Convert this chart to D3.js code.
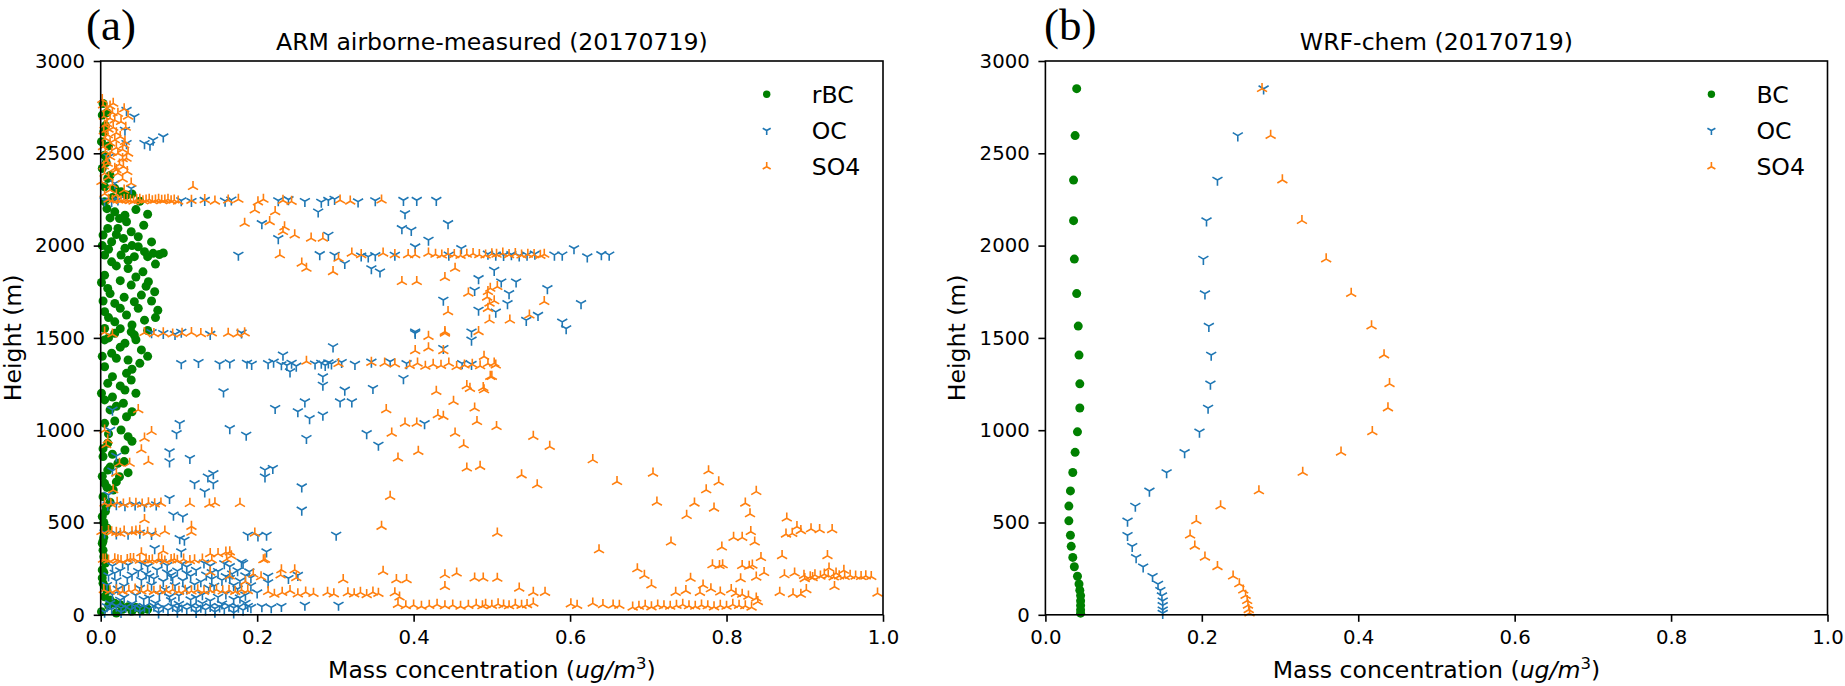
<!DOCTYPE html>
<html>
<meta charset="utf-8">
<style type="text/css">
  body { margin: 0; background: #fff; }
  text { font-family: "DejaVu Sans", sans-serif; fill: #000; }
  .tick text { font-size: 19.7px; }
  .tick line { stroke: #000; stroke-width: 1.6; }
  .panel-tag { font-family: "Liberation Serif", "Times New Roman", serif; font-size: 45px; }
</style>
<body>
<script src="https://d3js.org/d3.v7.min.js"></script>
<div id="chart"></div>
<script>
  // ---------- data: [mass concentration (ug/m3), height (m)] ----------

  // (a) ARM airborne-measured
  const rbcA = [
    [0.003,2770],[0.002,2707],[0.004,2617],[0.001,2563],[0.005,2490],[0.002,2418],[0.009,2364],[0.005,2319],
    [0.018,2310],[0.026,2292],[0.033,2274],[0.005,2238],[0.018,2183],[0.031,2165],[0.024,2147],[0.033,2129],
    [0.009,2093],[0.022,2093],[0.039,2075],[0.003,2057],[0.048,2048],[0.029,2039],[0.014,2021],[0.048,1994],
    [0.031,1985],[0.056,1967],[0.067,1958],[0.075,1952],[0.026,1949],[0.043,1940],[0.005,1949],[0.014,1912],
    [0.035,1876],[0.054,1858],[0.005,1840],[0.061,1804],[0.039,1786],[0.009,1768],[0.069,1750],[0.052,1732],
    [0.043,1696],[0.018,1687],[0.073,1650],[0.005,1642],[0.033,1624],[0.056,1596],[0.018,1587],[0.005,1551],
    [0.039,1533],[0.018,1525],[0.043,1516],[0.005,1489],[0.031,1471],[0.052,1435],[0.014,1417],[0.035,1380],
    [0.050,1362],[0.005,1344],[0.033,1308],[0.039,1272],[0.009,1254],[0.031,1218],[0.005,1164],[0.029,1146],
    [0.012,1110],[0.033,1073],[0.005,1037],[0.026,1001],[0.035,965],[0.009,929],[0.031,893],[0.003,857],
    [0.022,821],[0.009,784],[0.024,748],[0.005,712],[0.016,676],[0.003,640],[0.007,586],[0.002,532],
    [0.005,459],[0.002,387],[0.004,315],[0.002,243],[0.003,171],[0.005,98],[0.018,62],[0.035,44],
    [0.052,26],[0.001,17],[0.002,2000],[0.001,1800],[0.003,1700],[0.002,1400],[0.001,1200],[0.003,900],
    [0.002,750],[0.006,560],[0.004,420],[0.003,350],[0.002,200],[0.008,130],[0.010,50],[0.028,30],
    [0.008,2720],[0.006,2650],[0.010,2540],[0.007,2450],[0.012,2380],[0.015,2260],[0.040,2280],[0.050,2240],
    [0.008,2200],[0.045,2195],[0.060,2170],[0.012,2150],[0.055,2110],[0.020,2060],[0.065,2020],[0.040,2000],
    [0.080,1960],[0.010,1980],[0.060,1940],[0.035,1920],[0.020,1890],[0.070,1900],[0.045,1830],[0.025,1810],
    [0.058,1780],[0.012,1740],[0.030,1720],[0.065,1700],[0.025,1660],[0.048,1660],[0.010,1610],[0.070,1610],
    [0.040,1570],[0.025,1550],[0.060,1540],[0.010,1500],[0.045,1490],[0.025,1450],[0.060,1400],[0.020,1390],
    [0.040,1330],[0.015,1290],[0.025,1240],[0.045,1200],[0.015,1180],[0.020,1130],[0.040,1100],[0.018,1050],
    [0.010,980],[0.040,940],[0.015,870],[0.030,830],[0.012,800],[0.035,770],[0.020,720],[0.008,690],
    [0.012,610],[0.004,500],[0.008,470],[0.003,400],[0.006,280],[0.004,230],[0.006,150],[0.012,80],
    [0.025,55],[0.045,40],[0.060,30],[0.040,20],[0.020,10]
  ];

  const ocA = [
    [0.033,2734],[0.043,2698],[0.031,2626],[0.056,2554],[0.063,2545],[0.067,2572],[0.080,2590],[0.033,2554],
    [0.018,2337],[0.039,2310],[0.005,2245],[0.014,2240],[0.022,2248],[0.010,2480],
    [0.103,2244],[0.116,2240],[0.133,2246],[0.159,2242],[0.167,2248],[0.227,2244],[0.240,2250],[0.261,2240],
    [0.282,2236],[0.291,2246],[0.299,2252],[0.329,2238],[0.351,2244],[0.387,2246],[0.404,2246],[0.429,2246],
    [0.278,2183],[0.389,2174],[0.206,2120],[0.385,2093],[0.397,2084],[0.291,2057],[0.444,2120],[0.227,2039],
    [0.419,2030],[0.402,1994],[0.176,1949],[0.280,1952],[0.299,1949],[0.333,1945],[0.342,1940],[0.351,1947],
    [0.312,1904],[0.346,1876],[0.357,1858],[0.376,1949],[0.461,1985],[0.445,1950],
    [0.495,1955],[0.505,1950],[0.515,1948],[0.525,1952],[0.535,1945],[0.545,1950],[0.555,1955],[0.580,1950],
    [0.590,1950],[0.605,1984],[0.622,1940],[0.640,1952],[0.650,1950],
    [0.483,1822],[0.478,1759],[0.438,1705],[0.483,1651],[0.503,1867],[0.512,1804],[0.531,1804],[0.522,1741],
    [0.571,1768],[0.520,1687],[0.614,1687],[0.505,1641],[0.559,1623],[0.544,1596],[0.590,1587],[0.595,1551],
    [0.402,1533],[0.474,1533],[0.474,1489],[0.402,1525],
    [0.065,1530],[0.080,1525],[0.095,1520],[0.103,1532],[0.180,1528],[0.140,1520],
    [0.103,1362],[0.125,1368],[0.152,1360],[0.165,1366],[0.187,1364],[0.193,1358],[0.214,1362],[0.221,1370],
    [0.231,1356],[0.238,1352],[0.244,1364],[0.250,1348],[0.274,1360],[0.282,1364],[0.287,1352],[0.291,1366],
    [0.295,1360],[0.308,1368],[0.325,1358],[0.346,1370],[0.370,1372],[0.391,1362],[0.462,1362],[0.474,1358],
    [0.233,1408],[0.297,1453],[0.438,1444],[0.242,1317],[0.284,1290],[0.387,1281],[0.284,1245],[0.157,1209],
    [0.312,1218],[0.348,1227],[0.306,1155],[0.321,1155],[0.261,1155],[0.223,1119],[0.252,1101],[0.267,1064],
    [0.284,1083],[0.101,1037],[0.414,1037],[0.097,983],[0.165,1010],[0.186,974],[0.263,956],[0.340,983],
    [0.355,920],[0.088,884],[0.088,830],[0.114,848],[0.137,748],[0.144,766],[0.120,712],[0.144,712],
    [0.133,667],[0.210,785],[0.220,794],[0.210,748],[0.257,694],[0.257,568],[0.088,631],
    [0.015,1110],[0.012,1000],[0.020,860],[0.015,780],[0.010,650],
    [0.009,595],[0.020,598],[0.031,592],[0.044,596],[0.056,590],[0.071,597],
    [0.093,541],[0.105,532],[0.188,432],[0.201,428],[0.212,432],[0.101,414],[0.107,405],[0.301,432],
    [0.069,360],[0.103,342],[0.212,342],[0.182,279],
    [0.005,445],[0.020,440],[0.035,438],[0.050,444],[0.065,436],
    [0.015,265],[0.035,270],[0.060,262],[0.085,268],[0.110,260],[0.140,266],[0.165,262],
    [0.025,240],[0.048,236],[0.072,244],[0.098,238],[0.122,242],[0.150,236],[0.175,240],[0.190,234],
    [0.010,212],[0.040,216],[0.062,208],[0.090,214],[0.115,210],[0.135,216],[0.160,208],[0.185,212],
    [0.020,185],[0.052,188],[0.080,182],[0.105,186],[0.128,180],[0.155,188],[0.178,184],
    [0.008,160],[0.030,156],[0.065,162],[0.095,158],[0.120,164],[0.145,156],[0.170,160],[0.192,158],
    [0.015,110],[0.045,106],[0.075,112],[0.100,104],[0.130,110],[0.160,114],[0.185,108],
    [0.025,80],[0.055,84],[0.090,78],[0.115,82],[0.140,76],[0.170,84],
    [0.008,45],[0.020,48],[0.032,42],[0.044,46],[0.056,44],[0.068,48],[0.080,42],[0.092,46],
    [0.104,44],[0.116,48],[0.128,42],[0.140,46],[0.152,44],[0.164,48],[0.176,42],[0.188,46],
    [0.014,30],[0.038,28],[0.062,32],[0.086,26],[0.110,30],[0.134,28],[0.158,32],[0.182,26],
    [0.005,15],[0.026,14],[0.050,16],[0.074,12],[0.098,15],[0.122,14],[0.146,16],[0.170,12],
    [0.206,45],[0.218,40],[0.231,46],[0.261,53],[0.304,53],[0.214,210],[0.240,198],[0.252,215],
    [0.214,175],[0.200,120],
    [0.028,282],[0.052,278],[0.078,284],[0.104,276],[0.132,282],[0.158,278],[0.180,286],
    [0.018,226],[0.058,222],[0.085,228],[0.110,224],[0.142,230],[0.168,222],
    [0.034,198],[0.068,196],[0.092,200],[0.142,194],[0.165,198],[0.192,202],
    [0.022,140],[0.050,144],[0.082,138],[0.110,142],[0.138,146],[0.175,140],
    [0.030,95],[0.062,92],[0.088,98],[0.122,94],[0.150,96],[0.178,92],
    [0.012,62],[0.040,60],[0.070,64],[0.100,58],[0.130,62],[0.155,60],[0.185,64],
    [0.026,36],[0.050,38],[0.074,34],[0.098,38],[0.122,36],[0.146,34],[0.170,38],[0.192,40]
  ];

  const so4A = [
    [0.003,2761],[0.016,2770],[0.022,2716],[0.012,2689],[0.005,2653],[0.026,2671],[0.009,2599],[0.018,2572],
    [0.031,2563],[0.003,2535],[0.022,2499],[0.033,2472],[0.009,2445],[0.018,2418],[0.029,2427],[0.005,2391],
    [0.022,2391],[0.001,2346],[0.039,2337],[0.012,2301],[0.008,2740],[0.015,2720],[0.004,2700],[0.010,2630],
    [0.020,2610],[0.006,2580],[0.028,2520],[0.014,2505],[0.007,2460],[0.024,2440],
    [0.002,2790],[0.012,2755],[0.030,2740],[0.035,2700],[0.018,2680],[0.008,2660],[0.032,2640],[0.016,2640],
    [0.004,2620],[0.025,2590],[0.012,2555],[0.030,2545],[0.020,2530],[0.006,2510],[0.035,2500],[0.012,2480],
    [0.028,2470],[0.004,2430],[0.020,2410],[0.034,2400],[0.010,2370],[0.028,2360],[0.015,2330],[0.030,2300],
    [0.005,2280],[0.020,2275],
    [0.022,2246],[0.030,2250],[0.038,2244],[0.046,2248],[0.054,2242],[0.062,2250],[0.070,2246],[0.078,2244],
    [0.086,2250],[0.094,2246],[0.099,2240],[0.116,2244],[0.133,2248],[0.146,2240],[0.163,2246],[0.176,2250],
    [0.201,2236],[0.208,2250],[0.233,2244],[0.244,2238],[0.306,2246],[0.319,2240],[0.359,2246],
    [0.026,2244],[0.034,2248],[0.042,2240],[0.050,2250],[0.058,2246],[0.066,2242],[0.074,2250],[0.082,2246],
    [0.090,2242],[0.010,2250],[0.015,2244],
    [0.118,2319],[0.197,2192],[0.223,2183],[0.184,2120],[0.216,2129],[0.235,2100],[0.233,2075],[0.248,2057],
    [0.269,2039],[0.284,2039],[0.229,1949],[0.257,1904],[0.263,1876],[0.297,1858],
    [0.304,1930],[0.321,1958],[0.333,1950],[0.361,1958],[0.376,1950],[0.393,1950],[0.402,1950],[0.419,1958],
    [0.428,1952],[0.436,1948],[0.444,1955],[0.452,1950],[0.460,1946],[0.468,1952],[0.476,1956],[0.484,1950],
    [0.492,1948],[0.500,1954],[0.506,1952],[0.514,1958],[0.522,1950],[0.530,1955],[0.538,1948],[0.546,1952],
    [0.554,1950],[0.562,1946],[0.567,1952],
    [0.385,1804],[0.404,1804],[0.440,1826],[0.453,1876],[0.470,1741],[0.444,1641],[0.498,1768],[0.494,1720],
    [0.503,1700],[0.440,1533],[0.483,1533],[0.507,1777],[0.495,1750],[0.497,1687],[0.567,1696],[0.495,1659],
    [0.548,1623],[0.523,1596],[0.497,1596],
    [0.056,1528],[0.068,1522],[0.080,1526],[0.092,1520],[0.104,1524],[0.116,1528],[0.128,1522],[0.142,1526],
    [0.163,1524],[0.175,1520],[0.184,1526],[0.005,1530],[0.015,1520],[0.419,1507],[0.440,1525],
    [0.263,1372],[0.304,1360],[0.346,1366],[0.363,1362],[0.376,1358],[0.395,1350],[0.405,1362],[0.415,1345],
    [0.425,1356],[0.435,1350],[0.445,1362],[0.455,1344],[0.465,1352],[0.475,1356],[0.485,1348],[0.495,1360],
    [0.505,1352],
    [0.402,1430],[0.419,1445],[0.438,1430],[0.468,1240],[0.472,1225],[0.489,1230],[0.498,1290],[0.429,1209],
    [0.451,1155],[0.365,1110],[0.431,1083],[0.438,1074],[0.478,1119],[0.481,1046],[0.389,1037],[0.404,1037],
    [0.372,983],[0.453,983],[0.464,920],[0.406,884],[0.380,848],[0.468,794],[0.485,803],[0.370,640],[0.359,478],
    [0.490,1399],[0.503,1362],[0.500,1290],[0.490,1218],[0.506,1019],[0.553,965],[0.574,911],[0.629,839],
    [0.538,757],[0.558,703],[0.660,721],[0.706,766],[0.711,609],[0.777,779],[0.790,719],[0.774,676],
    [0.759,604],[0.749,537],[0.784,577],[0.838,667],[0.824,604],[0.830,546],[0.507,441],[0.637,351],
    [0.729,393],[0.809,418],[0.820,418],[0.831,450],[0.836,393],[0.794,366],[0.877,523],[0.890,477],
    [0.876,436],[0.884,440],[0.895,455],[0.908,465],[0.919,460],[0.935,460],[0.844,309],[0.871,319],
    [0.929,319],[0.782,270],[0.791,266],[0.795,270],[0.820,266],[0.829,262],[0.833,268],[0.848,228],
    [0.838,203],[0.686,248],[0.695,212],[0.704,161],[0.754,197],[0.818,194],[0.874,216],[0.887,225],
    [0.899,212],[0.907,205],[0.913,215],[0.920,208],[0.930,212],[0.937,204],[0.944,210],[0.951,206],
    [0.958,212],[0.965,208],[0.972,206],[0.978,210],[0.985,206],[0.900,195],[0.910,200],[0.925,220],
    [0.940,225],[0.950,240],[0.938,152],[0.931,252],[0.993,116],[0.868,120],[0.885,112],[0.895,110],
    [0.902,135],[0.507,197],[0.535,143],[0.553,120],[0.568,120],[0.553,62],
    [0.492,55],[0.500,50],[0.508,58],[0.515,52],[0.522,48],[0.530,56],[0.538,50],[0.545,54],
    [0.601,58],[0.609,50],[0.629,62],[0.642,54],[0.655,52],[0.663,50],
    [0.680,40],[0.688,45],[0.696,50],[0.704,42],[0.712,52],[0.720,48],[0.728,45],[0.736,50],
    [0.744,55],[0.752,48],[0.760,45],[0.768,52],[0.776,48],[0.784,42],[0.792,50],[0.800,45],
    [0.808,55],[0.816,50],[0.824,48],[0.832,40],[0.840,70],[0.838,90],
    [0.735,120],[0.748,130],[0.766,120],[0.792,122],[0.806,135],[0.812,115],[0.820,110],[0.828,100],
    [0.770,160],[0.780,140],
    [0.380,55],[0.390,48],[0.400,52],[0.410,45],[0.420,50],[0.430,55],[0.440,48],[0.450,52],
    [0.460,45],[0.470,50],[0.480,55],[0.488,48],
    [0.048,1110],[0.065,992],[0.056,956],[0.005,1000],[0.009,946],[0.007,920],[0.052,893],[0.024,820],
    [0.037,820],[0.061,830],[0.020,766],[0.016,676],
    [0.005,604],[0.013,600],[0.021,608],[0.029,598],[0.037,606],[0.045,602],[0.053,598],[0.061,606],
    [0.069,600],[0.077,604],[0.114,602],[0.139,598],[0.146,606],[0.178,602],[0.056,514],
    [0.001,450],[0.010,455],[0.020,445],[0.030,452],[0.040,448],[0.050,456],[0.060,446],[0.082,452],
    [0.116,446],[0.116,478],[0.197,441],
    [0.014,448],[0.025,440],[0.045,452],[0.070,440],
    [0.003,300],[0.010,295],[0.018,302],[0.026,292],[0.034,298],[0.042,304],[0.050,294],[0.058,300],
    [0.066,296],[0.074,302],[0.082,290],[0.090,298],[0.098,294],[0.106,300],[0.114,292],[0.142,297],
    [0.161,300],[0.167,318],[0.208,297],[0.150,330],[0.165,340],
    [0.006,300],[0.022,296],[0.038,304],[0.062,292],[0.078,300],[0.094,302],[0.120,296],[0.130,300],[0.210,300],
    [0.052,335],[0.080,345],[0.140,330],[0.160,338],
    [0.140,230],[0.165,210],[0.195,220],[0.205,205],[0.230,215],[0.250,200],[0.185,180],
    [0.231,243],[0.248,243],[0.310,189],[0.361,234],[0.378,189],[0.391,189],[0.440,216],[0.455,225],
    [0.478,198],[0.489,198],[0.440,152],
    [0.004,135],[0.012,128],[0.020,134],[0.028,126],[0.036,132],[0.044,138],[0.052,128],[0.060,134],
    [0.068,126],[0.076,132],[0.084,130],[0.092,136],[0.100,126],[0.108,132],[0.116,128],[0.124,134],
    [0.132,126],[0.140,132],[0.148,136],[0.156,128],[0.164,132],[0.172,126],[0.180,134],[0.188,130],
    [0.214,125],[0.222,110],[0.232,120],[0.242,130],[0.252,112],[0.262,122],[0.272,115],[0.290,120],
    [0.298,112],[0.316,118],[0.324,112],[0.332,120],[0.340,108],[0.348,122],[0.355,115],[0.376,118],
    [0.382,95]
  ];

  // (b) WRF-chem model levels
  const heightsB = [2850,2596,2355,2135,1927,1740,1564,1407,1251,1120,991,880,771,671,589,509,431,371,311,260,209,167,133,104,76,51,27,9];
  const bcB  = [0.040,0.038,0.036,0.036,0.037,0.040,0.042,0.043,0.044,0.044,0.041,0.038,0.035,0.032,0.030,0.030,0.032,0.033,0.035,0.037,0.041,0.043,0.044,0.045,0.045,0.045,0.045,0.045];
  const ocB  = [0.279,0.246,0.220,0.206,0.202,0.204,0.209,0.212,0.211,0.208,0.197,0.178,0.155,0.133,0.115,0.105,0.105,0.111,0.116,0.125,0.137,0.144,0.147,0.149,0.150,0.150,0.150,0.150];
  const so4B = [0.277,0.288,0.303,0.328,0.359,0.391,0.417,0.433,0.440,0.438,0.418,0.378,0.329,0.273,0.224,0.193,0.185,0.191,0.204,0.220,0.240,0.248,0.253,0.256,0.258,0.259,0.260,0.261];

  const xTicks = [0, 0.2, 0.4, 0.6, 0.8, 1.0];
  const yTicks = [0, 500, 1000, 1500, 2000, 2500, 3000];

  // ---------- layout ----------
  const width = 1845, height = 686;
  const plotTop = 61, plotBottom = 614.8;
  const panels = [
    { left: 100.7, right: 883, tag: "(a)", tagX: 86, title: "ARM airborne-measured (20170719)",
      names: ["rBC", "OC", "SO4"],
      series: [
        { kind: "dot", color: "green", pts: rbcA },
        { kind: "down", color: "#1f77b4", pts: ocA },
        { kind: "up", color: "#ff7f0e", pts: so4A }
      ] },
    { left: 1045.4, right: 1827.5, tag: "(b)", tagX: 1044, title: "WRF-chem (20170719)",
      names: ["BC", "OC", "SO4"],
      series: [
        { kind: "dot", color: "green", pts: bcB.map((v, i) => [v, heightsB[i]]) },
        { kind: "down", color: "#1f77b4", pts: ocB.map((v, i) => [v, heightsB[i]]) },
        { kind: "up", color: "#ff7f0e", pts: so4B.map((v, i) => [v, heightsB[i]]) }
      ] }
  ];

  // tri markers like matplotlib '1' (tri_down) and '2' (tri_up)
  function tri(kind, s) {
    const a = 0.866 * s, b = 0.5 * s;
    if (kind === "down") return `M0,0L0,${s}M0,0L${-a},${-b}M0,0L${a},${-b}`;
    return `M0,0L0,${-s}M0,0L${-a},${b}M0,0L${a},${b}`;
  }

  function drawMarker(g, kind, color, x, y, big) {
    if (kind === "dot") {
      g.append("circle").attr("cx", x).attr("cy", y).attr("r", big ? 4.5 : 3.7).attr("fill", color);
    } else {
      g.append("path").attr("transform", `translate(${x},${y})`)
        .attr("d", tri(kind, big ? 5.8 : 4.6))
        .attr("fill", "none").attr("stroke", color).attr("stroke-width", 1.6);
    }
  }

  const svg = d3.select("#chart").append("svg")
    .attr("width", width)
    .attr("height", height);

  panels.forEach(p => {
    const x = d3.scaleLinear().domain([0, 1]).range([p.left, p.right]);
    const y = d3.scaleLinear().domain([0, 3000]).range([plotBottom, plotTop]);
    const g = svg.append("g");

    // points, drawn in plotting order
    p.series.forEach(s => {
      const sg = g.append("g");
      s.pts.forEach(d => drawMarker(sg, s.kind, s.color, x(d[0]), y(d[1]), true));
    });

    // axes
    g.append("g").attr("transform", `translate(0,${plotBottom})`)
      .call(d3.axisBottom(x).tickValues(xTicks).tickFormat(d3.format(".1f")).tickSize(7).tickPadding(8.7))
      .call(a => a.select(".domain").remove());
    g.append("g").attr("transform", `translate(${p.left},0)`)
      .call(d3.axisLeft(y).tickValues(yTicks).tickFormat(d3.format("d")).tickSize(7).tickPadding(8.7))
      .call(a => a.select(".domain").remove());

    g.append("rect")
      .attr("x", p.left).attr("y", plotTop)
      .attr("width", p.right - p.left).attr("height", plotBottom - plotTop)
      .attr("fill", "none").attr("stroke", "#000").attr("stroke-width", 1.6);

    // titles and labels
    g.append("text").attr("x", (p.left + p.right) / 2).attr("y", 49.5)
      .attr("text-anchor", "middle").style("font-size", "23.6px").text(p.title);

    g.append("text").attr("class", "panel-tag").attr("x", p.tagX).attr("y", 40).text(p.tag);

    const xl = g.append("text").attr("x", (p.left + p.right) / 2).attr("y", 678)
      .attr("text-anchor", "middle").style("font-size", "23.6px");
    xl.append("tspan").text("Mass concentration (");
    xl.append("tspan").style("font-style", "italic").text("ug/m");
    xl.append("tspan").attr("dy", -9).style("font-size", "16.5px").text("3");
    xl.append("tspan").attr("dy", 9).text(")");

    g.append("text")
      .attr("transform", `translate(${p.left - 80},${(plotTop + plotBottom) / 2}) rotate(-90)`)
      .attr("text-anchor", "middle").style("font-size", "23.6px").text("Height (m)");

    // legend (no frame)
    p.series.forEach((s, i) => {
      const ly = 94.3 + i * 36.2;
      drawMarker(g, s.kind, s.color, p.left + 666, ly, false);
      g.append("text").attr("x", p.left + 711).attr("y", ly + 8.3)
        .style("font-size", "23.6px").text(p.names[i]);
    });
  });
</script>
</body>
</html>
